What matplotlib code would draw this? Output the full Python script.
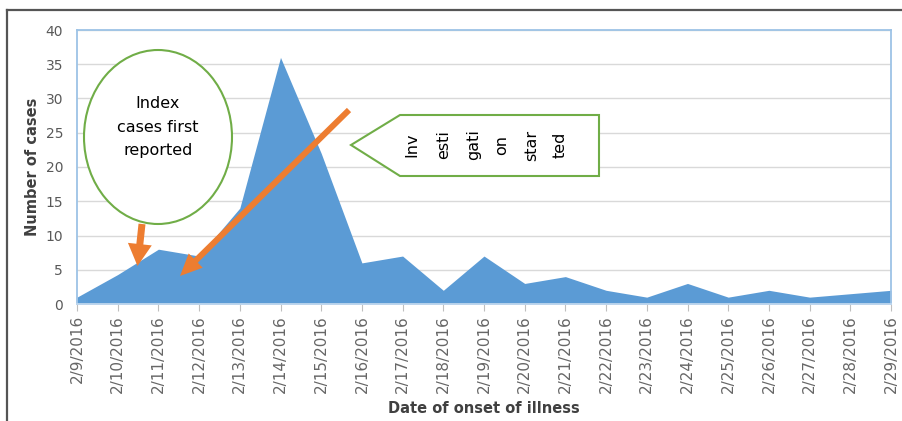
import matplotlib
matplotlib.use("Agg")
import matplotlib.pyplot as plt
from matplotlib.patches import Ellipse, Polygon, FancyArrow
from matplotlib.lines import Line2D

dates = ["2/9/2016", "2/10/2016", "2/11/2016", "2/12/2016", "2/13/2016", "2/14/2016",
         "2/15/2016", "2/16/2016", "2/17/2016", "2/18/2016", "2/19/2016", "2/20/2016",
         "2/21/2016", "2/22/2016", "2/23/2016", "2/24/2016", "2/25/2016", "2/26/2016",
         "2/27/2016", "2/28/2016", "2/29/2016"]
cases = [1, 4.3, 8, 7, 14, 36, 22, 6, 7, 2, 7, 3, 4, 2, 1, 3, 1, 2, 1, 1.5, 2]
yticks = [0, 5, 10, 15, 20, 25, 30, 35, 40]

W, H = 902, 421
fig = plt.figure(figsize=(W / 100, H / 100), dpi=100)
fig.patch.set_facecolor("white")

ax = fig.add_axes([77 / W, (H - 304) / H, (891 - 77) / W, (304 - 30) / H])
x = list(range(len(dates)))
ax.fill_between(x, cases, 0, color="#5B9BD5", linewidth=0, zorder=2)
ax.set_xlim(0, len(dates) - 1)
ax.set_ylim(0, 40)
ax.set_yticks(yticks)
ax.set_yticklabels([str(v) for v in yticks], fontsize=10, color="#595959")
ax.set_xticks(x)
ax.set_xticklabels(dates, rotation=90, fontsize=11, color="#666666", va="top", ha="center")
ax.tick_params(axis="y", length=0, pad=10)
ax.tick_params(axis="x", length=5, color="#BFBFBF", pad=3)
ax.grid(axis="y", color="#D9D9D9", linewidth=1, zorder=0)
ax.set_axisbelow(True)
for s in ax.spines.values():
    s.set_color("#9DC3E6")
    s.set_linewidth(1.3)
ax.spines["bottom"].set_color("#BFD7EE")
ax.set_ylabel("Number of cases", fontsize=10.5, fontweight="bold", color="#404040", labelpad=4)
ax.set_xlabel("Date of onset of illness", fontsize=10.5, fontweight="bold", color="#404040", labelpad=6)

# overlay in pixel coordinates for annotations
ov = fig.add_axes([0, 0, 1, 1])
ov.set_xlim(0, W)
ov.set_ylim(H, 0)
ov.axis("off")
ov.patch.set_alpha(0)

ov.add_line(Line2D([7, W], [10, 10], color="#555555", linewidth=1.6))
ov.add_line(Line2D([7, 7], [10, H], color="#555555", linewidth=1.6))

green = "#70AD47"
orange = "#ED7D31"

ov.add_patch(Ellipse((158, 137), 148, 174, facecolor="white", edgecolor=green, linewidth=1.5))
ov.text(158, 127, "Index\ncases first\nreported", ha="center", va="center",
        fontsize=11.5, linespacing=1.75, color="black")

ov.add_patch(FancyArrow(142, 224, -4.5, 42, width=7, head_width=24, head_length=22,
                        length_includes_head=True, color=orange, linewidth=0))
ov.add_patch(FancyArrow(349, 110, -169, 166, width=6, head_width=20, head_length=22,
                        length_includes_head=True, color=orange, linewidth=0))

ov.add_patch(Polygon([(351, 145), (400, 115), (599, 115), (599, 176), (400, 176)],
                     closed=True, facecolor="white", edgecolor=green, linewidth=1.5))
words = ["Inv", "esti", "gati", "on", "star", "ted"]
wx = [412, 444, 474, 502, 532, 560]
for w, xx in zip(words, wx):
    ov.text(xx, 145, w, rotation=90, ha="center", va="center", fontsize=11.5, color="black")

fig.savefig("out.png", dpi=100)
